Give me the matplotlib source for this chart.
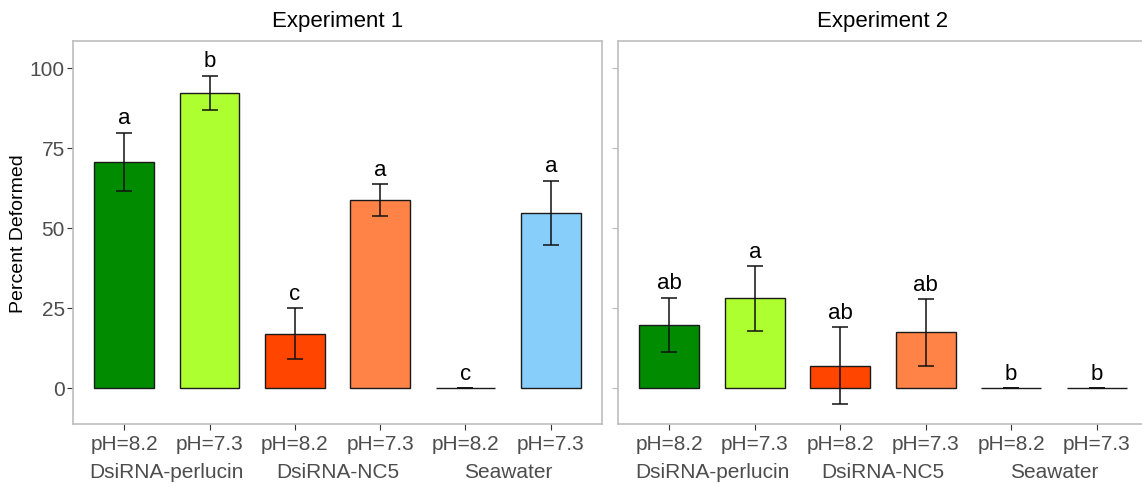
import matplotlib
matplotlib.use("Agg")
import matplotlib.pyplot as plt
import numpy as np

plt.rcParams['font.family'] = ['Liberation Sans', 'DejaVu Sans']

# ---- data ----
conditions = ["pH=8.2", "pH=7.3", "pH=8.2", "pH=7.3", "pH=8.2", "pH=7.3"]
groups = ["DsiRNA-perlucin", "DsiRNA-NC5", "Seawater"]
bar_colors = ["#008B00", "#ADFF2F", "#FF4500", "#FF8247", "#FFFFFF", "#87CEFA"]

exp1_mean = [70.6, 92.2, 16.9, 58.6, 0.0, 54.7]
exp1_se = [9.2, 5.4, 8.0, 5.0, 0.0, 10.1]
exp1_letters = ["a", "b", "c", "a", "c", "a"]

exp2_mean = [19.7, 28.0, 6.9, 17.3, 0.0, 0.0]
exp2_se = [8.5, 10.1, 12.1, 10.4, 0.0, 0.0]
exp2_letters = ["ab", "a", "ab", "ab", "b", "b"]

titles = ["Experiment 1", "Experiment 2"]
yticks = [0, 25, 50, 75, 100]

W, H = 1142, 485
fig = plt.figure(figsize=(W / 100, H / 100), dpi=100)

top_px, bot_px = 42, 425
panels = [(73, 529), (618, 530)]

PX = 72 / 100  # points per pixel

def draw(ax, means, ses, letters, title, show_ylabels):
    x = np.arange(1, len(means) + 1)
    ax.bar(x, means, width=0.7, color=bar_colors, edgecolor="#1A1A1A",
           linewidth=1.0, zorder=2)
    ax.errorbar(x, means, yerr=ses, fmt="none", ecolor="#111111",
                elinewidth=1.1, capsize=6, capthick=1.1, zorder=3)
    for xi, m, s, lab in zip(x, means, ses, letters):
        ax.annotate(lab, xy=(xi, m + s), xytext=(0, 3),
                    textcoords="offset points", ha="center", va="bottom",
                    fontsize=16, color="black", zorder=4)
    ax.set_xlim(0.4, 6.6)
    ax.set_ylim(-11.3, 108.4)
    ax.set_yticks(yticks)
    ax.set_xticks(x)
    ax.set_xticklabels(conditions)
    ax.tick_params(axis="both", colors="#333333", labelcolor="#4D4D4D",
                   labelsize=15, length=4, width=0.8, direction="out")
    ax.tick_params(axis="x", pad=3)
    ax.tick_params(axis="y", pad=2)
    if not show_ylabels:
        ax.tick_params(axis="y", labelleft=False, colors="#BBBBBB")
    for sp in ax.spines.values():
        sp.set_color("#BDBDBD")
        sp.set_linewidth(1.2)
    # group labels under pairs
    for gi, g in enumerate(groups):
        gx = (x[2 * gi] + x[2 * gi + 1]) / 2
        ax.annotate(g, xy=(gx, 0), xycoords=("data", "axes fraction"),
                    xytext=(0, -48 * PX), textcoords="offset points",
                    ha="center", va="center", fontsize=15, color="#4D4D4D",
                    annotation_clip=False)
    ax.annotate(title, xy=(0.5, 1), xycoords="axes fraction",
                xytext=(0, 20 * PX), textcoords="offset points",
                ha="center", va="center", fontsize=16, color="black",
                annotation_clip=False)

datasets = [(exp1_mean, exp1_se, exp1_letters), (exp2_mean, exp2_se, exp2_letters)]
for i, ((left, width), (m, s, l)) in enumerate(zip(panels, datasets)):
    ax = fig.add_axes([left / W, 1 - bot_px / H, width / W, (bot_px - top_px) / H])
    draw(ax, m, s, l, titles[i], show_ylabels=(i == 0))

fig.text(18.5 / W, 1 - 234 / H, "Percent Deformed", rotation=90,
         ha="center", va="center", fontsize=14, color="black")

fig.savefig("out.png", dpi=100)
